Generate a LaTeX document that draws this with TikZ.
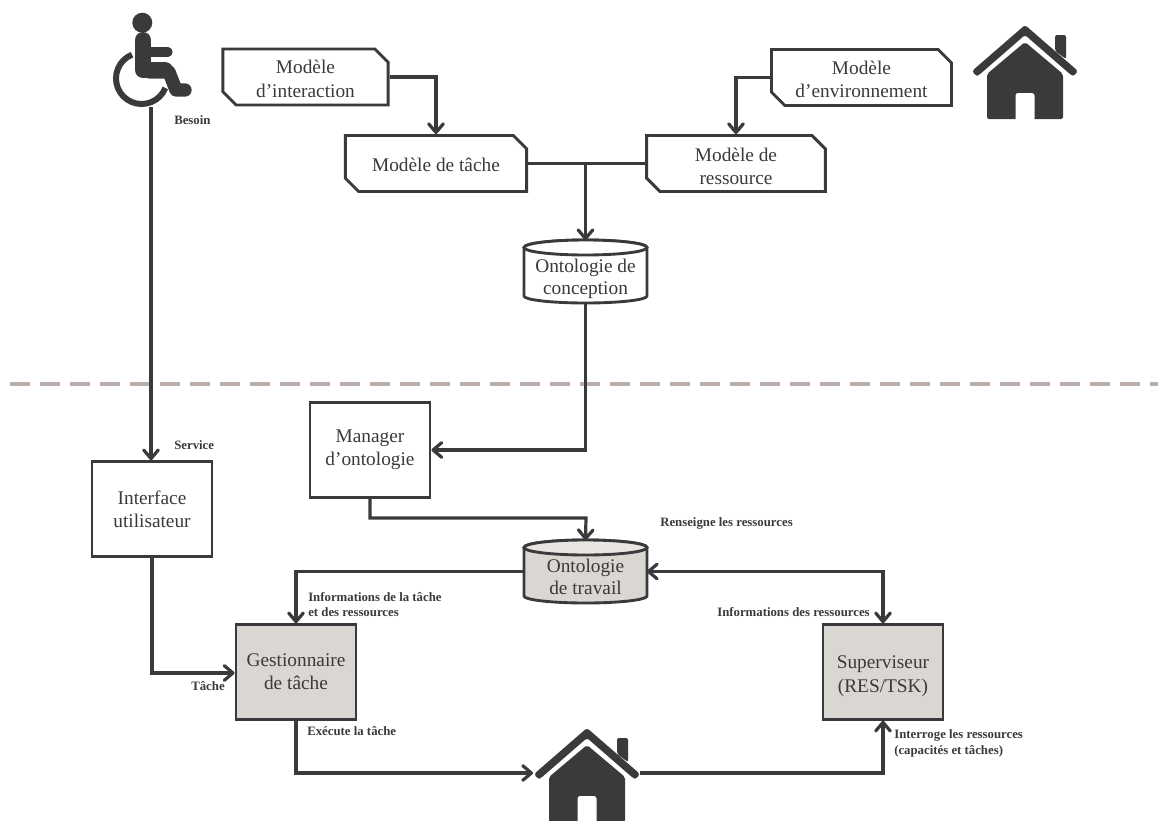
\documentclass[tikz,border=0pt]{standalone}
\usepackage{fontspec}
\setmainfont{Liberation Serif}
\usetikzlibrary{shapes.geometric,shapes.misc,arrows.meta}
\definecolor{ink}{HTML}{3A393C}
\definecolor{graybox}{HTML}{DAD6D2}
\definecolor{graytop}{HTML}{E9E6E2}
\definecolor{sep}{HTML}{BBADA9}
\newcommand{\lowr}[1]{\rule{0pt}{#1pt}}
\tikzset{
  x=0.75pt,y=-0.75pt,
  line/.style={draw=ink,line width=2.4pt},
  boxline/.style={draw=ink,line width=2.15pt},
  tip/.tip={Straight Barb[length=6.5pt,width=11pt,round]},
  conn/.style={line,-tip},
  txt/.style={align=center,text=ink,font=\fontsize{14.5}{17.5}\selectfont},
  chamf/.style={boxline,txt,chamfered rectangle,chamfered rectangle corners={north east,south west},chamfered rectangle xsep=5pt,chamfered rectangle ysep=5pt,inner sep=0pt},
  squarebox/.style={boxline,txt,rectangle,inner sep=0pt,minimum width=90pt,minimum height=71pt},
  shaded box/.style={squarebox,fill=graybox},
  db/.style={txt,rectangle,inner sep=0pt,outer sep=0pt,minimum width=92pt,minimum height=47pt},
  lab/.style={text=ink,inner sep=0pt,font=\fontsize{9.6}{11.5}\selectfont\bfseries,align=left},
}
\newcommand{\housepic}[2]{%
  \begin{scope}[shift={(#1,#2)}]
    \fill[ink,rounded corners=1.5pt] (30,10) -- (41,10) -- (41,34) -- (30,26) -- cycle;
    \fill[white] (0,5) -- (60,53) -- (-60,53) -- cycle;
    \fill[ink,rounded corners=2pt] (0,0) -- (53,46) -- (49,51) -- (46,50) -- (0,10) -- (-46,50) -- (-49,51) -- (-53,46) -- cycle;
    \fill[ink,rounded corners=1.5pt] (0,17) -- (38,49) -- (38,94) -- (-38,94) -- (-38,49) -- cycle;
    \fill[white,rounded corners=2pt] (-9.5,96) -- (-9.5,68) -- (9.5,68) -- (9.5,96) -- cycle;
  \end{scope}}
\newcommand{\dbpic}[4]{%
  \begin{scope}[shift={(#1,#2)}]
    \filldraw[boxline,fill=#3,line join=round] (-61.5,-24) -- (-61.5,24.5) arc[start angle=180,end angle=0,x radius=61.5,y radius=7] -- (61.5,-24) arc[start angle=0,end angle=-180,x radius=61.5,y radius=7.5] -- cycle;
    \filldraw[boxline,fill=#4] (0,-24) ellipse[x radius=61.5,y radius=7.5];
  \end{scope}}
\begin{document}
\begin{tikzpicture}
\useasboundingbox (0,0) rectangle (1158,821);
% separator
\draw[sep,line width=2.4pt,dash pattern=on 15pt off 7.5pt] (10,384) -- (1158,384);
% wheelchair
\fill[ink] (142.3,22.7) circle[radius=10];
\draw[ink,line width=4.5pt] (141.6,78.4) ++(-112:25.6) arc[start angle=-112,end angle=-338,radius=25.6];
\draw[ink,line width=12pt,line cap=round,line join=round] (143,40) -- (143,70) -- (165,70);
\draw[ink,line width=7pt,line cap=round] (148,52) -- (168,52);
\draw[ink,line width=10pt,line cap=round,line join=round] (150,72) -- (169,72) -- (176,90) -- (185,90);
\coordinate (user) at (151,107);
% houses
\housepic{1025}{25}
\housepic{587}{728}
\coordinate (houseL) at (533,773);
\coordinate (houseR) at (640,773);
% boxes
\node[chamf,minimum width=124pt,minimum height=42pt] (mi) at (305.5,77) {\lowr{13}Modèle\\d’interaction};
\node[chamf,minimum width=136pt,minimum height=42pt] (mt) at (436,163.5) {\lowr{12}Modèle de tâche};
\node[chamf,minimum width=135pt,minimum height=42pt] (me) at (861.5,77.5) {\lowr{12.5}Modèle\\d’environnement};
\node[chamf,minimum width=134pt,minimum height=42pt] (mr) at (736,163.5) {\lowr{14}Modèle de\\ressource};
\dbpic{585.5}{271.5}{white}{white}
\node[db] (oc) at (585.5,271.5) {\lowr{21}Ontologie de\\[-1pt]conception};
\node[squarebox] (mo) at (370,450) {Manager\\d’ontologie};
\node[squarebox] (iu) at (152,509) {Interface\\utilisateur};
\dbpic{585.5}{571.5}{graybox}{graytop}
\node[db] (ot) at (585.5,571.5) {\lowr{18}Ontologie\\[-1.5pt]de travail};
\node[shaded box] (gt) at (296,672) {Gestionnaire\\de tâche};
\node[shaded box] (sv) at (883,672) {\lowr{16}Superviseur\\(RES/TSK)};
% connectors
\draw[conn] (mi.east) -| (mt.north);
\draw[conn] (me.west) -| (mr.north);
\draw[line] (mt.east) -- (mr.west);
\coordinate (tj) at (oc.north |- mt.east);
\draw[conn] (tj) -- (oc.north);
\draw[conn] (oc.south) |- (mo.east);
\coordinate (mj) at (586,518);
\draw[conn] (mo.south) |- (mj) -- (ot.north);
\draw[conn] (user) -- (user |- iu.north);
\coordinate (ga) at (gt.west |- 0,673);
\draw[conn] (iu.south) |- (ga);
\draw[conn] (ot.west) -| (gt.north);
\draw[line,tip-tip] (ot.east) -| (sv.north);
\draw[conn] (gt.south) |- (houseL);
\draw[conn] (houseR) -| (sv.south);
% labels
\node[lab,anchor=west] (l1) at (174,120) {Besoin};
\node[lab,anchor=west] (l2) at (174,445) {Service};
\node[lab,anchor=west] (l3) at (660,523) {Renseigne les ressources};
\node[lab,anchor=west] (l4) at (308,604.5) {Informations de la tâche\\et des ressources};
\node[lab,anchor=west] (l5) at (717,612) {Informations des ressources};
\node[lab,anchor=west] (l6) at (191,686) {Tâche};
\node[lab,anchor=west] (l7) at (307,731) {Exécute la tâche};
\node[lab,anchor=west] (l8) at (894,743.5) {Interroge les ressources\\(capacités et tâches)};
\end{tikzpicture}
\end{document}
